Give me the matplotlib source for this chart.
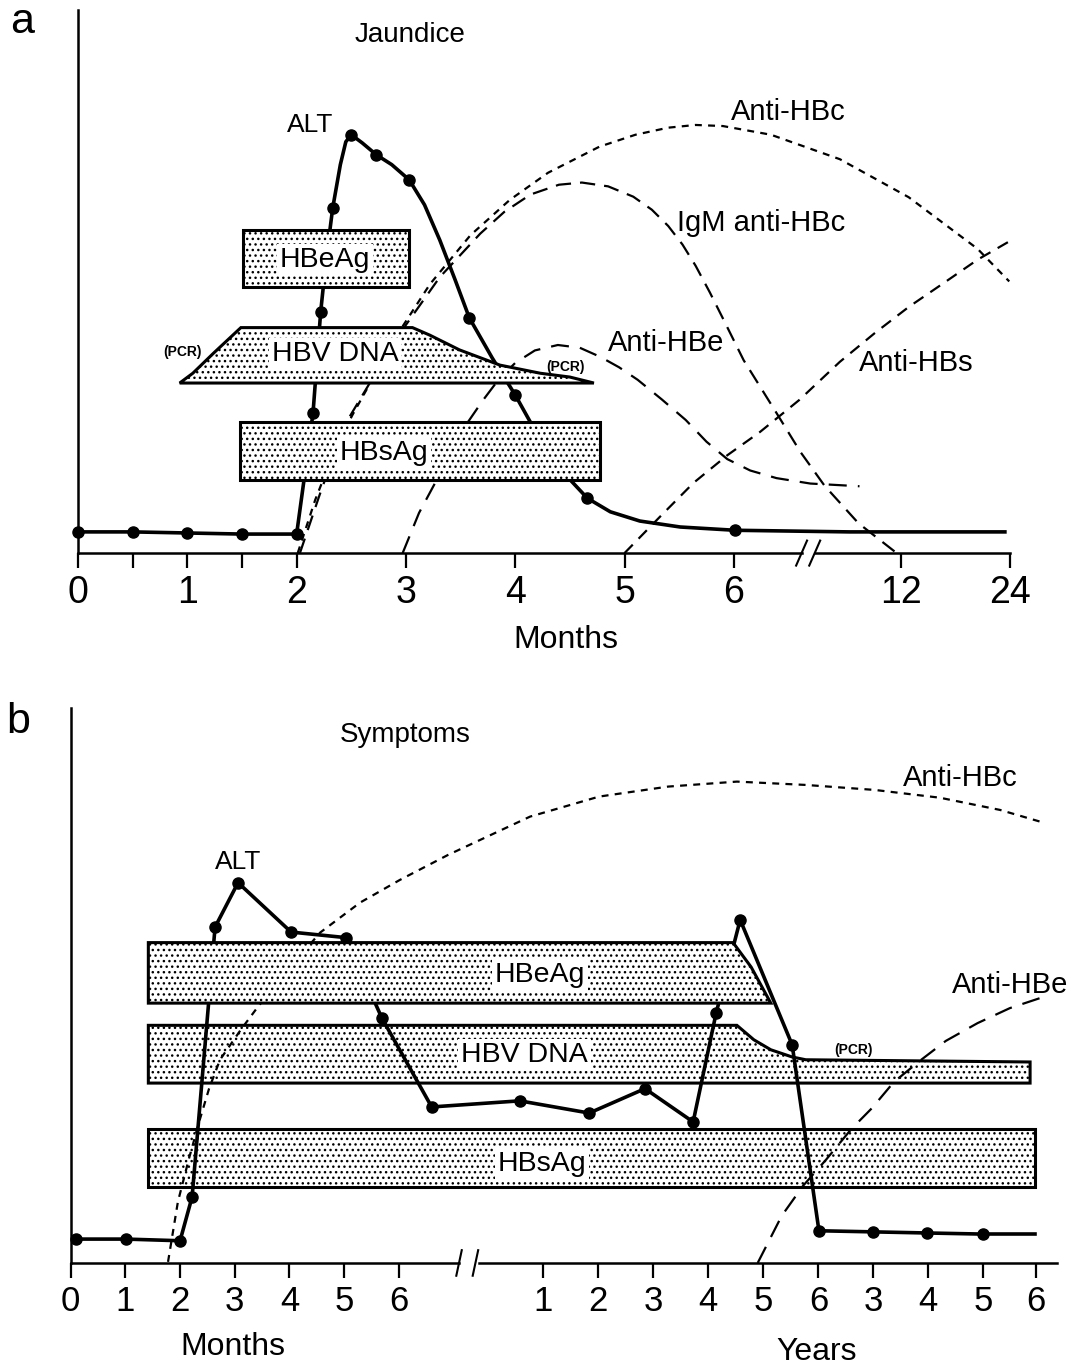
import matplotlib.pyplot as plt
from matplotlib.patches import Polygon

plt.rcParams['font.family'] = ['Liberation Sans', 'DejaVu Sans']
plt.rcParams['hatch.linewidth'] = 1.0
plt.rcParams['lines.scale_dashes'] = False

# x values are axis positions (months 0-6, then the 12 / 24 month ticks);
# y values are relative levels, 0 = time axis, 100 = top of the y axis

# ---------- panel a : acute hepatitis B ----------
a_tick_pos = [0, 0.5, 1, 1.5, 2, 3, 4, 5, 6, 7.53, 8.53]
a_tick_lab = ['0', '', '1', '', '2', '3', '4', '5', '6', '12', '24']

a_alt_x = [0, 0.5, 1, 1.5, 2, 2.08, 2.15, 2.22, 2.27, 2.33, 2.40, 2.45, 2.50, 2.60,
           2.73, 2.87, 3.03, 3.17, 3.31, 3.45, 3.58, 3.79, 4.0, 4.23, 4.46, 4.66,
           4.87, 5.14, 5.51, 6.01, 7.06, 8.48]
a_alt_y = [3.9, 3.9, 3.7, 3.5, 3.5, 15.3, 25.8, 44.4, 54.0, 63.5, 71.5, 75.7, 77.0, 75.5,
           73.3, 71.5, 68.7, 64.1, 57.6, 50.3, 43.3, 35.9, 29.1, 20.8, 14.4, 10.1,
           7.6, 5.9, 4.8, 4.2, 3.9, 3.9]
a_alt_dot_x = [0, 0.5, 1, 1.5, 2, 2.15, 2.22, 2.33, 2.50, 2.73, 3.03, 3.58, 4.0, 4.66, 6.01]
a_alt_dot_y = [3.9, 3.9, 3.7, 3.5, 3.5, 25.8, 44.4, 63.5, 77.0, 73.3, 68.7, 43.3, 29.1, 10.1, 4.2]

a_hbc_x = [2.01, 2.17, 2.35, 2.51, 2.69, 2.93, 3.22, 3.59, 3.95, 4.3, 4.77, 5.1, 5.40,
           5.65, 5.90, 6.34, 6.97, 7.60, 8.23, 8.52]
a_hbc_y = [0, 9.8, 19.0, 25.4, 31.9, 40.5, 49.5, 58.5, 65.0, 70.0, 74.8, 77.0, 78.3,
           78.8, 78.6, 77.0, 72.5, 65.5, 56.0, 50.0]

a_igm_x = [2.03, 2.21, 2.44, 2.69, 3.0, 3.31, 3.68, 3.9, 4.14, 4.4, 4.61, 4.85, 5.08,
           5.25, 5.40, 5.53, 5.65, 5.78, 5.90, 6.09, 6.39, 6.61, 6.83, 7.14, 7.49]
a_igm_y = [0, 10.7, 23.6, 32.0, 42.0, 50.8, 58.8, 62.8, 66.0, 67.8, 68.2, 67.5, 65.6,
           63.2, 60.2, 56.8, 52.9, 48.0, 43.2, 35.5, 25.8, 18.6, 12.4, 5.5, 0]

a_hbe_x = [2.97, 3.12, 3.28, 3.42, 3.56, 3.70, 3.85, 4.0, 4.18, 4.39, 4.59, 4.78, 4.95,
           5.12, 5.34, 5.56, 5.75, 5.94, 6.15, 6.39, 6.70, 7.15]
a_hbe_y = [0, 7.4, 13.4, 19.0, 23.9, 28.0, 32.0, 35.0, 37.3, 38.3, 37.8, 36.1, 34.2,
           31.9, 28.3, 24.5, 20.5, 17.3, 15.2, 13.8, 12.8, 12.3]

a_hbs_x = [5.0, 5.32, 5.63, 5.94, 6.24, 6.60, 6.97, 7.29, 7.60, 7.92, 8.23, 8.54]
a_hbs_y = [0, 6.6, 12.9, 18.0, 22.3, 28.2, 35.2, 40.5, 45.3, 49.7, 54.0, 57.6]

a_hbeag_x = [1.51, 1.51, 3.03, 3.03]
a_hbeag_y = [49.0, 59.5, 59.5, 49.0]
a_dna_x = [0.93, 1.05, 1.24, 1.49, 3.06, 3.22, 3.49, 3.86, 4.23, 4.50, 4.72]
a_dna_y = [31.3, 33.1, 36.8, 41.5, 41.5, 40.1, 37.4, 34.6, 33.1, 32.4, 31.3]
a_hbsag_x = [1.48, 1.48, 4.78, 4.78]
a_hbsag_y = [13.4, 24.1, 24.1, 13.4]

# ---------- panel b : chronic hepatitis B with seroconversion ----------
b_tick_pos = [0, 1, 2, 3, 4, 5, 6, 8.63, 9.64, 10.65, 11.65, 12.66, 13.67,
              14.67, 15.67, 16.68, 17.65]
b_tick_lab = ['0', '1', '2', '3', '4', '5', '6', '1', '2', '3', '4', '5', '6',
              '3', '4', '5', '6']

b_alt_x = [0.1, 1.01, 2.0, 2.22, 2.64, 3.06, 4.03, 5.03, 5.69, 6.60, 8.21, 9.48,
           10.50, 11.38, 11.80, 12.24, 13.19, 13.68, 14.67, 15.65, 16.68]
b_alt_y = [4.3, 4.3, 4.0, 11.9, 60.5, 68.5, 59.6, 58.6, 44.1, 28.1, 29.2, 27.0,
           31.4, 25.4, 45.0, 61.8, 39.3, 5.8, 5.6, 5.4, 5.2]
b_alt_end_x = [16.68, 17.63]
b_alt_end_y = [5.2, 5.2]

b_hbc_x = [1.78, 1.96, 2.16, 2.36, 2.53, 2.73, 3.11, 3.42, 4.01, 4.56, 5.29, 6.02,
           6.90, 8.40, 9.66, 10.92, 12.18, 13.44, 14.70, 15.89, 16.99, 17.72]
b_hbc_y = [0.2, 11.0, 18.7, 25.8, 31.4, 36.6, 42.0, 46.1, 53.2, 59.5, 64.9, 69.0,
           73.5, 80.4, 84.0, 85.8, 86.7, 86.1, 85.2, 83.8, 81.6, 79.5]

b_hbe_x = [12.56, 13.0, 13.39, 13.81, 14.27, 14.65, 15.05, 15.55, 16.0, 16.58, 17.17, 17.72]
b_hbe_y = [0, 8.5, 13.9, 18.6, 24.1, 27.9, 32.6, 36.6, 40.0, 43.2, 45.9, 47.7]

b_hbeag_x = [1.42, 1.42, 12.11, 12.44, 12.80]
b_hbeag_y = [46.8, 57.7, 57.7, 53.3, 46.8]
b_dna_x = [1.42, 1.42, 12.18, 12.49, 12.80, 13.19, 13.44, 17.54, 17.54]
b_dna_y = [32.4, 42.8, 42.8, 40.2, 38.4, 37.1, 36.6, 36.2, 32.4]
b_hbsag_x = [1.42, 1.42, 17.63, 17.63]
b_hbsag_y = [13.7, 24.1, 24.1, 13.7]


def box(ax, xs, ys, label, lx, ly, z=3):
    ax.add_patch(Polygon(list(zip(xs, ys)), closed=True, facecolor='white',
                         edgecolor='black', lw=2.2, hatch='...', zorder=z))
    ax.text(lx, ly, label, ha='center', va='center', fontsize=20.5, zorder=z + 0.5,
            bbox=dict(facecolor='white', edgecolor='none', pad=2))


def setup(ax, ticks, labels, axis_parts, breaks, fs):
    for s in ['top', 'right', 'bottom']:
        ax.spines[s].set_visible(False)
    ax.spines['left'].set_position(('data', 0))
    ax.spines['bottom'].set_position(('data', 0))
    ax.spines['left'].set_bounds(0, 100)
    ax.spines['left'].set_linewidth(1.8)
    ax.set_yticks([])
    ax.set_xticks(ticks)
    ax.set_xticklabels(labels, fontsize=fs)
    ax.tick_params(axis='x', direction='out', length=11, width=1.6, pad=5)
    ax.patch.set_visible(False)
    for x0, x1 in axis_parts:
        ax.plot([x0, x1], [0, 0], color='black', lw=1.8, zorder=4)
    for xb in breaks:
        ax.plot([xb - 0.05, xb + 0.05], [-2.3, 2.3], color='black', lw=1.5, zorder=4)


fig = plt.figure(figsize=(10.71, 13.69), dpi=100)

# panel a : boxes hide the curves behind them
axa = fig.add_axes([0, 1 - 690 / 1369, 1, 690 / 1369])
axa.set_xlim(-0.714, 9.085)
axa.set_ylim(-25.2, 101.8)
setup(axa, a_tick_pos, a_tick_lab, [(0, 6.62), (6.74, 8.53)], [6.62, 6.74], 27)

axa.plot(a_alt_x, a_alt_y, color='black', lw=2.6, zorder=2)
axa.plot(a_alt_dot_x, a_alt_dot_y, 'o', color='black', ms=8, zorder=2)
axa.plot(a_hbc_x, a_hbc_y, color='black', lw=1.6, dashes=(5, 4.5), zorder=1)
axa.plot(a_igm_x, a_igm_y, color='black', lw=1.6, dashes=(11, 6.5), zorder=1)
axa.plot(a_hbe_x, a_hbe_y, color='black', lw=1.6, dashes=(13, 8), zorder=1)
axa.plot(a_hbs_x, a_hbs_y, color='black', lw=1.6, dashes=(8.5, 6), zorder=1)

box(axa, a_hbeag_x, a_hbeag_y, 'HBeAg', 2.26, 54.0)
box(axa, a_dna_x, a_dna_y, 'HBV DNA', 2.35, 36.6)
box(axa, a_hbsag_x, a_hbsag_y, 'HBsAg', 2.8, 18.4)

axa.text(3.04, 95.4, 'Jaundice', ha='center', va='center', fontsize=20)
axa.text(2.12, 78.8, 'ALT', ha='center', va='center', fontsize=19)
axa.text(6.5, 81.2, 'Anti-HBc', ha='center', va='center', fontsize=21)
axa.text(6.25, 60.8, 'IgM anti-HBc', ha='center', va='center', fontsize=21)
axa.text(5.38, 38.7, 'Anti-HBe', ha='center', va='center', fontsize=21)
axa.text(7.67, 35.0, 'Anti-HBs', ha='center', va='center', fontsize=21)
axa.text(0.96, 37.0, '(PCR)', ha='center', va='center', fontsize=10,
         fontweight='bold', zorder=5)
axa.text(4.46, 34.3, '(PCR)', ha='center', va='center', fontsize=10,
         fontweight='bold', zorder=5)
axa.text(4.46, -16.0, 'Months', ha='center', va='center', fontsize=23)

# panel b : only the HBeAg box hides the curves
axb = fig.add_axes([0, 0, 1, 679 / 1369])
axb.set_xlim(-1.292, 18.288)
axb.set_ylim(-19.1, 103.2)
setup(axb, b_tick_pos, b_tick_lab, [(0, 7.1), (7.46, 18.03)], [7.1, 7.4], 25)

box(axb, b_dna_x, b_dna_y, 'HBV DNA', 8.3, 37.5, z=2)
box(axb, b_hbsag_x, b_hbsag_y, 'HBsAg', 8.62, 17.8, z=2)
axb.plot(b_alt_x, b_alt_y, color='black', lw=2.6, marker='o', ms=8, zorder=3)
axb.plot(b_alt_end_x, b_alt_end_y, color='black', lw=2.6, zorder=3)
axb.plot(b_hbc_x, b_hbc_y, color='black', lw=1.6, dashes=(5, 4.5), zorder=3)
axb.plot(b_hbe_x, b_hbe_y, color='black', lw=1.6, dashes=(13, 8), zorder=3)
box(axb, b_hbeag_x, b_hbeag_y, 'HBeAg', 8.58, 51.9, z=5)

axb.text(6.11, 95.1, 'Symptoms', ha='center', va='center', fontsize=20)
axb.text(3.06, 72.3, 'ALT', ha='center', va='center', fontsize=19)
axb.text(16.26, 87.4, 'Anti-HBc', ha='center', va='center', fontsize=21)
axb.text(17.17, 50.1, 'Anti-HBe', ha='center', va='center', fontsize=21)
axb.text(14.32, 38.4, '(PCR)', ha='center', va='center', fontsize=10,
         fontweight='bold', zorder=5)
axb.text(2.97, -15.1, 'Months', ha='center', va='center', fontsize=23)
axb.text(13.64, -16.0, 'Years', ha='center', va='center', fontsize=23)

fig.text(0.0205, 0.984, 'a', ha='center', va='center', fontsize=31)
fig.text(0.0168, 0.4726, 'b', ha='center', va='center', fontsize=31)

fig.savefig('out.png', dpi=100)
